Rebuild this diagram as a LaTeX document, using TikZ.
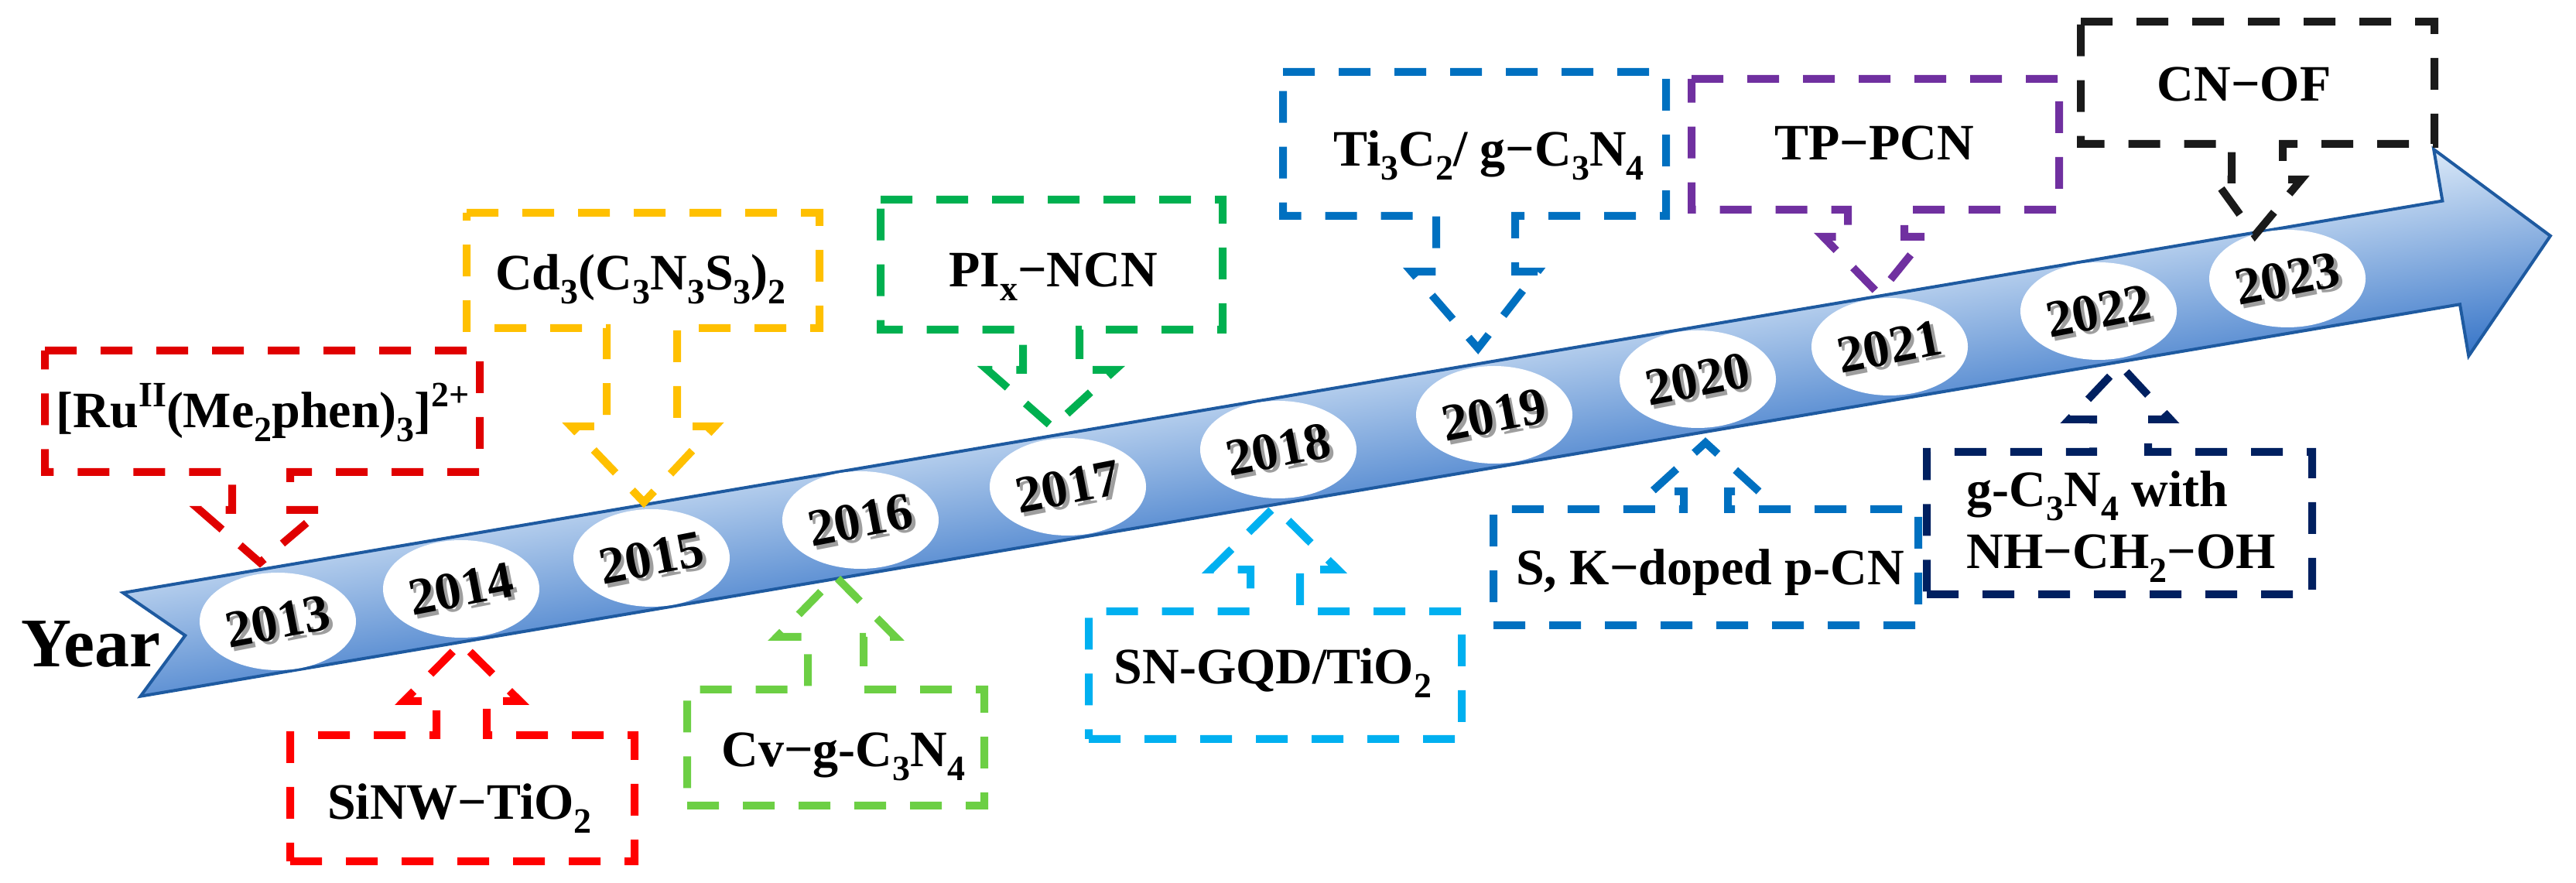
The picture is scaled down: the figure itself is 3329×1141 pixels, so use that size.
\documentclass[tikz,border=0pt]{standalone}
\usepackage{fontspec}
\setmainfont{Liberation Serif}
\definecolor{cred1}{HTML}{E00000}
\definecolor{cred2}{HTML}{FF0000}
\definecolor{cyel}{HTML}{FFC000}
\definecolor{clgreen}{HTML}{6CCF44}
\definecolor{cgreen}{HTML}{00B050}
\definecolor{clblue}{HTML}{00B0F0}
\definecolor{cblue}{HTML}{0070C0}
\definecolor{cpurple}{HTML}{7030A0}
\definecolor{cnavy}{HTML}{002060}
\definecolor{cblack}{HTML}{1A1A1A}
\definecolor{bandtop}{RGB}{219,233,248}
\definecolor{bandbot}{RGB}{55,117,200}
\definecolor{bandline}{RGB}{30,90,160}
\usetikzlibrary{shapes.geometric}
\newcommand{\sbs}[1]{\raisebox{-0.27em}{\fontsize{11.5}{12}\selectfont #1}}
\newcommand{\sps}[1]{\raisebox{0.42em}{\fontsize{11.5}{12}\selectfont #1}}
\tikzset{
  callout/.style={line width=2.5pt, dash pattern=on 10.25pt off 7.75pt, line join=miter},
  lbl/.style={font=\fontsize{16.5}{19.8}\selectfont\bfseries, inner sep=0pt, anchor=base},
  yrell/.style={ellipse, fill=white, draw=none, minimum width=50.5pt, minimum height=31.5pt, inner sep=0pt},
  yrtxt/.style={font=\fontsize{17}{20}\selectfont\bfseries, inner sep=0pt, rotate=11},
  yrshadow/.style={yrtxt, text=black!38},
}
\begin{document}
\begin{tikzpicture}[x=0.25pt,y=-0.25pt]
\useasboundingbox (0,0) rectangle (3329,1141);
% band arrow
\begin{scope}[transform canvas={shift={(159,766)}, rotate=9.59}]
  \shade[top color=bandtop, bottom color=bandbot]
    (0,0) -- (3040,0) -- (3040,-67.5) -- (3170,67.8) -- (3040,203.3) -- (3040,135.6) -- (0,135.6) -- (70,67.8) -- cycle;
  \draw[bandline, line width=1pt, line join=miter]
    (0,0) -- (3040,0) -- (3040,-67.5) -- (3170,67.8) -- (3040,203.3) -- (3040,135.6) -- (0,135.6) -- (70,67.8) -- cycle;
\end{scope}
% Year
\node[font=\fontsize{22.5}{27}\selectfont\bfseries, inner sep=0pt, anchor=base] (year) at (117,862) {Year};
% year ellipses and labels (with a soft drop shadow)
\foreach \yy/\cx/\cy in {2013/359/803, 2014/596/761, 2015/842/721, 2016/1112/672, 2017/1380/629, 2018/1652/581, 2019/1931/536, 2020/2194/490, 2021/2442/448, 2022/2712/402, 2023/2956/360}{
  \node[yrell] (e\yy) at (\cx,\cy) {};
  \node[yrshadow] (s\yy) at ([xshift=1.1pt,yshift=-1.1pt]e\yy.center) {\yy};
  \node[yrtxt] (t\yy) at (e\yy.center) {\yy};
}
% callouts
% 1 red down
\draw[callout, draw=cred1] (58,453) -- (620,453) -- (620,610) -- (375,610) -- (375,659) -- (416,659) -- (336,727) -- (258,659) -- (300,659) -- (300,610) -- (58,610) -- cycle;
\node[lbl] (l1) at (340,553) {[Ru\sps{II}(Me\sbs{2}phen)\sbs{3}]\sps{2+}};
% 2 red up
\draw[callout, draw=cred2] (375,1113) -- (820,1113) -- (820,950) -- (629,950) -- (629,906) -- (672,906) -- (596,831) -- (522,906) -- (564,906) -- (564,950) -- (375,950) -- cycle;
\node[lbl] (l2) at (594,1059) {SiNW−TiO\sbs{2}};
% 3 yellow down
\draw[callout, draw=cyel] (603,275) -- (1059,275) -- (1059,424) -- (875,424) -- (875,551) -- (924,551) -- (832,649) -- (738,551) -- (784,551) -- (784,424) -- (603,424) -- cycle;
\node[lbl] (l3) at (828,375) {Cd\sbs{3}(C\sbs{3}N\sbs{3}S\sbs{3})\sbs{2}};
% 4 light green up
\draw[callout, draw=clgreen] (888,1041) -- (1272,1041) -- (1272,891) -- (1116,891) -- (1116,823) -- (1157,823) -- (1080,745) -- (1004,823) -- (1044,823) -- (1044,891) -- (888,891) -- cycle;
\node[lbl] (l4) at (1090,991) {Cv−g-C\sbs{3}N\sbs{4}};
% 5 green down
\draw[callout, draw=cgreen] (1138,258) -- (1580,258) -- (1580,426) -- (1395,426) -- (1395,478) -- (1441,478) -- (1360,552) -- (1276,478) -- (1322,478) -- (1322,426) -- (1138,426) -- cycle;
\node[lbl] (l5) at (1361,371) {PI\sbs{x}−NCN};
% 6 light blue up
\draw[callout, draw=clblue] (1407,955) -- (1889,955) -- (1889,790) -- (1680,790) -- (1680,736) -- (1729,736) -- (1647,655) -- (1565,736) -- (1616,736) -- (1616,790) -- (1407,790) -- cycle;
\node[lbl] (l6) at (1645,884) {SN-GQD/TiO\sbs{2}};
% 7 blue down
\draw[callout, draw=cblue] (1658,93) -- (2153,93) -- (2153,279) -- (1958,279) -- (1958,351) -- (1987,351) -- (1910,450) -- (1824,351) -- (1856,351) -- (1856,279) -- (1658,279) -- cycle;
\node[lbl] (l7) at (1924,215) {Ti\sbs{3}C\sbs{2}/ g−C\sbs{3}N\sbs{4}};
% 8 blue up
\draw[callout, draw=cblue] (1930,808) -- (2479,808) -- (2479,658) -- (2233,658) -- (2233,635) -- (2273,635) -- (2204,572) -- (2135,635) -- (2176,635) -- (2176,658) -- (1930,658) -- cycle;
\node[lbl] (l8) at (2210,756) {S, K−doped p-CN};
% 9 purple down
\draw[callout, draw=cpurple] (2186,102) -- (2661,102) -- (2661,271) -- (2461,271) -- (2461,306) -- (2488,306) -- (2428,380) -- (2356,306) -- (2388,306) -- (2388,271) -- (2186,271) -- cycle;
\node[lbl] (l9) at (2422,207) {TP−PCN};
% 10 navy up
\draw[callout, draw=cnavy] (2490,768) -- (2988,768) -- (2988,584) -- (2776,584) -- (2776,542) -- (2805,542) -- (2740,472) -- (2674,542) -- (2705,542) -- (2705,584) -- (2490,584) -- cycle;
\node[lbl, anchor=base west] (l10a) at (2541,655) {g-C\sbs{3}N\sbs{4} with};
\node[lbl, anchor=base west] (l10b) at (2541,735) {NH−CH\sbs{2}−OH};
% 11 black down
\draw[callout, draw=cblack] (2689,28) -- (3146,28) -- (3146,186) -- (2950,186) -- (2950,232) -- (2974,232) -- (2914,304) -- (2862,232) -- (2884,232) -- (2884,186) -- (2689,186) -- cycle;
\node[lbl] (l11) at (2900,131) {CN−OF};
\end{tikzpicture}
\end{document}
